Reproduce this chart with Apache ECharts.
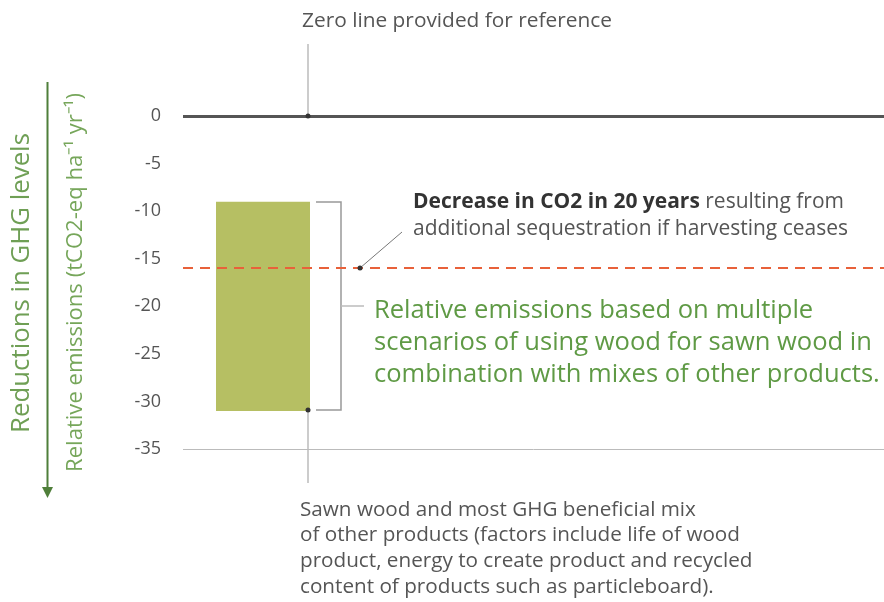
<!DOCTYPE html>
<html><head><meta charset="utf-8">
<script src="https://cdn.jsdelivr.net/npm/echarts@6/dist/echarts.min.js"></script>
<style>html,body{margin:0;padding:0;background:#fff}#c{width:884px;height:602px}</style>
</head><body><div id="c"></div>
<script>
const categories = ['Sawn wood and most GHG beneficial mix'];
const barTop = [-9];
const barBottom = [-31];
const zeroLine = 0;
const sequestrationLine = -16;
const axisMin = -35, axisMax = 0, axisStep = 5;
const axisTitle = 'Relative emissions (tCO2-eq ha\u207B\u00B9 yr\u207B\u00B9)';

const FONT = 'Open Sans';
const GRAY = '#555';
const mctx = document.createElement('canvas').getContext('2d');
function fit(text, target, weight) {
  mctx.font = (weight || 'normal') + ' 100px "' + FONT + '"';
  return +(100 * target / mctx.measureText(text).width).toFixed(2);
}
const fsZero = fit('Zero line provided for reference', 310);
const fsBottom = fit('of other products (factors include life of wood', 440);
const fsGreen = fit('scenarios of using wood for sawn wood in', 498);
const fsNote = fit('additional sequestration if harvesting ceases', 435);
const fsRed = fit('Reductions in GHG levels', 300);
const fsAxis = fit(axisTitle, 380);

const chart = echarts.init(document.getElementById('c'));
const yBase = {
  type: 'value', min: axisMin, max: axisMax, interval: axisStep,
  axisLine: {show: false}, axisTick: {show: false}, splitLine: {show: false}
};
chart.setOption({
  animation: false,
  textStyle: {fontFamily: FONT},
  grid: [
    {left: 183, right: 0, top: 116, bottom: 153},
    {left: 216, width: 94, top: 116, bottom: 153}
  ],
  xAxis: [
    {type: 'category', gridIndex: 0, data: categories, show: false},
    {type: 'category', gridIndex: 1, data: categories, show: false}
  ],
  yAxis: [
    Object.assign({}, yBase, {gridIndex: 0,
      axisLabel: {color: GRAY, fontSize: 18, margin: 22, fontFamily: FONT},
      name: axisTitle,
      nameLocation: 'middle', nameRotate: 90, nameGap: 96,
      nameTextStyle: {color: '#76a65a', fontSize: fsAxis, fontFamily: FONT}
    }),
    Object.assign({}, yBase, {gridIndex: 1, axisLabel: {show: false}})
  ],
  series: [
    {
      type: 'line', xAxisIndex: 0, yAxisIndex: 0, data: [], silent: true,
      markLine: {
        silent: true, symbol: 'none', label: {show: false},
        data: [
          {yAxis: zeroLine, lineStyle: {color: '#555', width: 3, type: 'solid'}},
          {yAxis: axisMin, lineStyle: {color: '#bbb', width: 1, type: 'solid'}},
          {yAxis: sequestrationLine, lineStyle: {color: '#e8613a', width: 2, type: [10, 7]}}
        ]
      }
    },
    {
      type: 'bar', xAxisIndex: 1, yAxisIndex: 1, stack: 'r', barWidth: '100%',
      itemStyle: {color: 'transparent'}, data: barTop, silent: true
    },
    {
      type: 'bar', xAxisIndex: 1, yAxisIndex: 1, stack: 'r', barWidth: '100%',
      itemStyle: {color: '#b6bf63'}, data: barBottom.map((b, i) => b - barTop[i]), silent: true
    }
  ],
  graphic: [
    {type: 'text', x: 302, y: 21, style: {text: 'Zero line provided for reference', fill: GRAY,
      fontSize: fsZero, fontFamily: FONT, verticalAlign: 'middle'}},
    {type: 'line', shape: {x1: 308, y1: 44, x2: 308, y2: 116}, style: {stroke: '#999', lineWidth: 1}},
    {type: 'circle', shape: {cx: 308, cy: 116, r: 2.5}, style: {fill: '#333'}, z: 10},
    {type: 'line', shape: {x1: 308, y1: 410, x2: 308, y2: 483}, style: {stroke: '#999', lineWidth: 1}},
    {type: 'circle', shape: {cx: 308, cy: 410, r: 2.5}, style: {fill: '#333'}, z: 10},
    {type: 'text', x: 300, y: 497, style: {
      text: 'Sawn wood and most GHG beneficial mix\nof other products (factors include life of wood\nproduct, energy to create product and recycled\ncontent of products such as particleboard).',
      fill: GRAY, fontSize: fsBottom, fontFamily: FONT, lineHeight: 25.7}},
    {type: 'polyline', shape: {points: [[316, 202], [341, 202], [341, 410], [316, 410]]}, style: {stroke: '#999', lineWidth: 1.5, fill: null}},
    {type: 'line', shape: {x1: 341, y1: 306, x2: 364, y2: 306}, style: {stroke: '#bbb', lineWidth: 1.5}},
    {type: 'text', x: 374, y: 295, style: {
      text: 'Relative emissions based on multiple\nscenarios of using wood for sawn wood in\ncombination with mixes of other products.',
      fill: '#5f9a45', fontSize: fsGreen, fontFamily: FONT, lineHeight: 32}},
    {type: 'line', shape: {x1: 360, y1: 268, x2: 402, y2: 232}, style: {stroke: '#777', lineWidth: 1}},
    {type: 'circle', shape: {cx: 360, cy: 268, r: 2.5}, style: {fill: '#333'}, z: 10},
    {type: 'text', x: 413, y: 189, style: {
      text: '{b|Decrease in CO2 in 20 years} resulting from\nadditional sequestration if harvesting ceases',
      fill: GRAY, fontSize: fsNote, fontFamily: FONT, lineHeight: 27,
      rich: {b: {fontWeight: 'bold', fill: '#333', fontSize: fsNote, fontFamily: FONT, lineHeight: 27}}}},
    {type: 'line', shape: {x1: 47.5, y1: 82, x2: 47.5, y2: 490}, style: {stroke: '#4f7f3a', lineWidth: 2}},
    {type: 'polygon', shape: {points: [[42, 487], [53, 487], [47.5, 498]]}, style: {fill: '#4f7f3a'}},
    {type: 'text', x: 22, y: 283, rotation: Math.PI / 2, style: {
      text: 'Reductions in GHG levels', fill: '#6f9f55', fontSize: fsRed, fontFamily: FONT, align: 'center', verticalAlign: 'middle'}}
  ]
});
</script></body></html>
